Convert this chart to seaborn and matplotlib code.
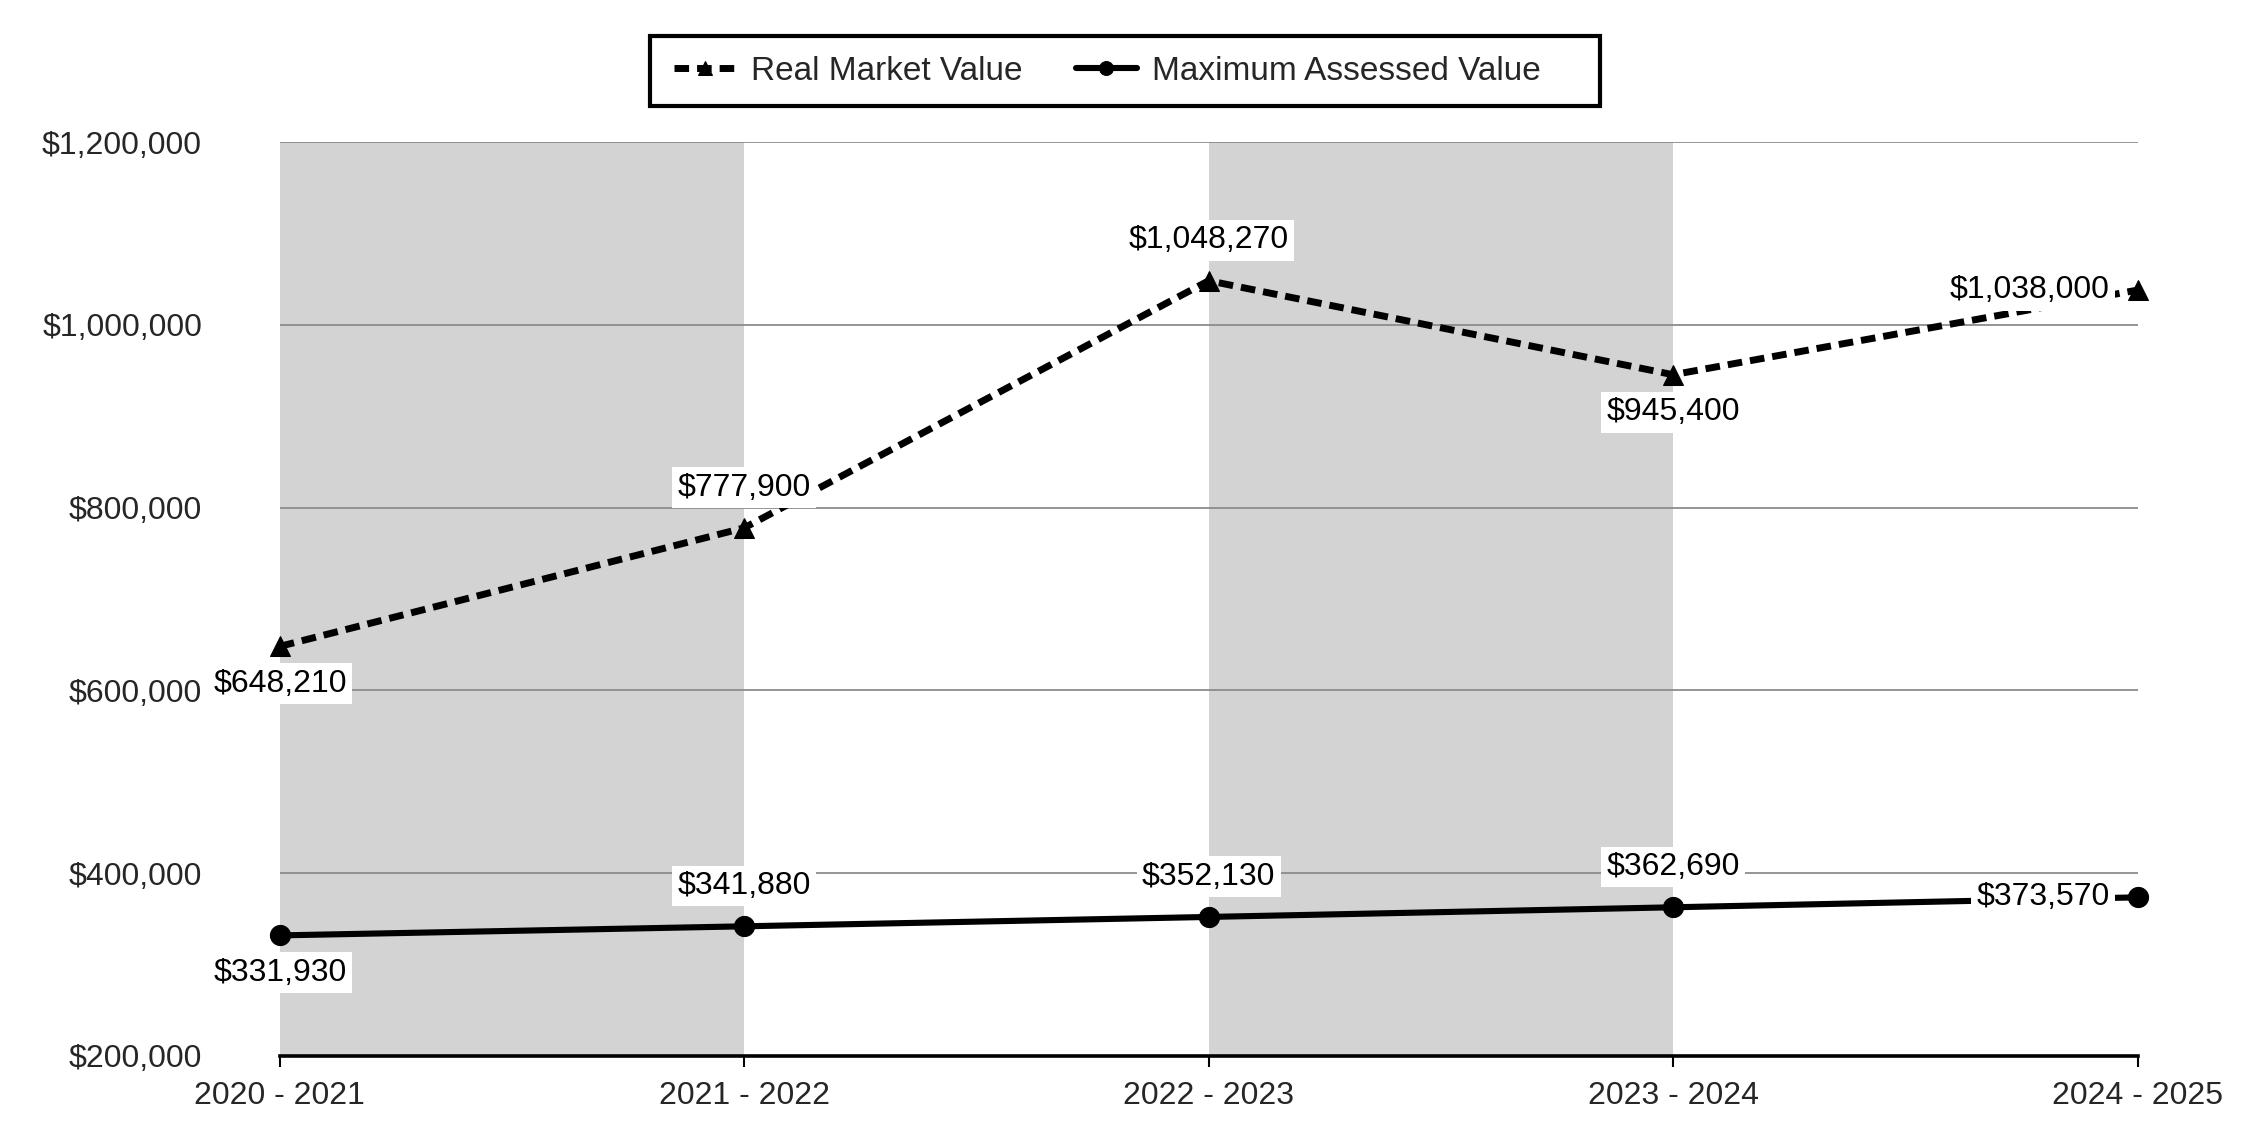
import numpy as np
import pandas as pd
import seaborn as sns
import matplotlib.pyplot as plt
from matplotlib.patches import Rectangle
from matplotlib.ticker import FuncFormatter

# data
periods = ['2020 - 2021', '2021 - 2022', '2022 - 2023', '2023 - 2024', '2024 - 2025']
real_market_value = [648210, 777900, 1048270, 945400, 1038000]
max_assessed_value = [331930, 341880, 352130, 362690, 373570]
y_ticks = [200000, 400000, 600000, 800000, 1000000, 1200000]
shaded_bands = [(0, 1), (2, 3)]

# where each value label sits relative to its point
rmv_label_side = ['below', 'above', 'above', 'below', 'left']
mav_label_side = ['below', 'above', 'above', 'above', 'left']

df = pd.DataFrame({'idx': np.arange(len(periods)),
                   'period': periods,
                   'rmv': real_market_value,
                   'mav': max_assessed_value})

sns.set_style('white')
plt.rcParams['font.family'] = ['Liberation Sans', 'DejaVu Sans']
FS = 23

fig, ax = plt.subplots(figsize=(22.5, 11.4), dpi=100)
fig.subplots_adjust(left=0.1244, right=0.950, top=0.8754, bottom=0.0737)

# alternating grey columns
for x0, x1 in shaded_bands:
    ax.axvspan(x0, x1, color='#d3d3d3', lw=0, zorder=0.3)

sns.lineplot(data=df, x='idx', y='rmv', ax=ax, color='black', lw=5,
             linestyle=(0, (2.1, 1.15)), marker='^', markersize=14,
             markeredgecolor='black', label='Real Market Value',
             legend=False, clip_on=False, zorder=3)
sns.lineplot(data=df, x='idx', y='mav', ax=ax, color='black', lw=4.4,
             marker='o', markersize=14.5, markeredgecolor='black',
             label='Maximum Assessed Value', legend=False, clip_on=False,
             zorder=3)


def put_labels(xs, ys, sides):
    for x, y, side in zip(xs, ys, sides):
        if side == 'above':
            off, ha = (0, 29), 'center'
        elif side == 'below':
            off, ha = (0, -27), 'center'
        else:
            off, ha = (-20, 0), 'right'
        ax.annotate(f'${y:,.0f}', xy=(x, y), xytext=off,
                    textcoords='offset points', ha=ha, va='center',
                    fontsize=FS, color='black', zorder=5,
                    bbox=dict(facecolor='white', edgecolor='none', pad=4))


put_labels(df['idx'], df['rmv'], rmv_label_side)
put_labels(df['idx'], df['mav'], mav_label_side)

# axes
ax.set_xlim(0, len(periods) - 1)
ax.set_ylim(y_ticks[0], y_ticks[-1])
ax.set_xticks(df['idx'])
ax.set_xticklabels(periods, fontsize=FS)
ax.set_yticks(y_ticks)
ax.yaxis.set_major_formatter(FuncFormatter(lambda v, p: f'${v:,.0f}'))
ax.tick_params(axis='y', length=0, pad=56, labelsize=FS)
ax.tick_params(axis='x', length=8, width=1.5, color='black',
               direction='out', pad=10, bottom=True)
ax.set_xlabel('')
ax.set_ylabel('')
ax.yaxis.grid(True, color='#8c8c8c', lw=1.3)
ax.xaxis.grid(False)
ax.set_axisbelow(True)
for s in ['left', 'right', 'top']:
    ax.spines[s].set_visible(False)
ax.spines['bottom'].set_color('black')
ax.spines['bottom'].set_linewidth(2.6)

# legend on top, with its own box (wider on the right like the original)
handles, labels = ax.get_legend_handles_labels()
leg = fig.legend(handles, labels, loc='center left',
                 bbox_to_anchor=(674 / 2250, 1 - 71 / 1140),
                 ncol=2, fontsize=24, frameon=False,
                 handlelength=1.85, columnspacing=1.6,
                 borderpad=0, handletextpad=0.45, borderaxespad=0)
for h in leg.legend_handles:
    h.set_markersize(10)
fig.patches.append(Rectangle((650 / 2250, 1 - 106 / 1140), 950 / 2250, 70 / 1140,
                             transform=fig.transFigure, fill=False,
                             edgecolor='black', lw=3))

fig.savefig('out.png', dpi=100)
